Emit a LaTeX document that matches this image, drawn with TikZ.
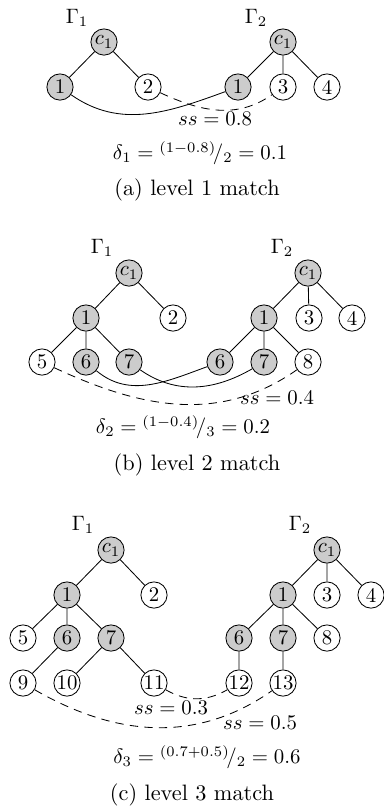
\documentclass[tikz,border=0pt]{standalone}
\begin{document}
\begin{tikzpicture}[x=0.48pt,y=-0.48pt,
  vtx/.style={circle,draw,minimum size=12.6pt,inner sep=0pt,font=\fontsize{10}{12}\selectfont},
  hit/.style={vtx,fill=black!20},
  lbl/.style={inner sep=0pt,font=\fontsize{10}{12}\selectfont},
  captext/.style={inner sep=0pt,font=\fontsize{10.7}{13}\selectfont},
  match/.style={thin},
  sim/.style={thin,dashed,dash pattern=on 4pt off 3pt}]
\useasboundingbox (0,0) rectangle (384,808);
% ---------- (a)
\node[lbl] (ag1) at (77,18) {$\Gamma_1$};
\node[lbl] (ag2) at (256,18) {$\Gamma_2$};
\node[hit] (ac) at (104,42) {$c_1$};
\node[hit] (a1) at (60,87) {1};
\node[vtx] (a2) at (148,87) {2};
\node[hit] (bc) at (283,42) {$c_1$};
\node[hit] (b1) at (238,87) {1};
\node[vtx] (b3) at (283,87) {3};
\node[vtx] (b4) at (327,87) {4};
\draw (ac)--(a1) (ac)--(a2) (bc)--(b1) (bc)--(b3) (bc)--(b4);
\draw[match] (a1) to[out=-35,in=200] (b1);
\draw[sim] (a2) to[out=-25,in=215] (b3);
\node[lbl] (ass) at (215,119) {$ss=0.8$};
\node[lbl] (ad) at (200,153) {$\delta_1={}^{(1-0.8)}\!/_{2}=0.1$};
\node[captext] (acap) at (197,190) {(a) level 1 match};
% ---------- (b)
\node[lbl] (cg1) at (102,248) {$\Gamma_1$};
\node[lbl] (cg2) at (282,248) {$\Gamma_2$};
\node[hit] (cc) at (129,273) {$c_1$};
\node[hit] (c1) at (86,318) {1};
\node[vtx] (c2) at (173,318) {2};
\node[vtx] (c5) at (42,362) {5};
\node[hit] (c6) at (86,362) {6};
\node[hit] (c7) at (129,362) {7};
\node[hit] (dc) at (308,273) {$c_1$};
\node[hit] (d1) at (264,318) {1};
\node[vtx] (d3) at (309,318) {3};
\node[vtx] (d4) at (352,318) {4};
\node[hit] (d6) at (220,362) {6};
\node[hit] (d7) at (264,362) {7};
\node[vtx] (d8) at (308,362) {8};
\draw (cc)--(c1) (cc)--(c2) (c1)--(c5) (c1)--(c6) (c1)--(c7);
\draw (dc)--(d1) (dc)--(d3) (dc)--(d4) (d1)--(d6) (d1)--(d7) (d1)--(d8);
\draw[match] (c6) to[out=-40,in=200] (d6);
\draw[match] (c7) to[out=-35,in=210] (d7);
\draw[sim] (c5) to[out=-25,in=215] (d8);
\node[lbl] (css) at (277,398) {$ss=0.4$};
\node[lbl] (cd) at (183,427) {$\delta_2={}^{(1-0.4)}\!/_{3}=0.2$};
\node[captext] (ccap) at (197,465) {(b) level 2 match};
% ---------- (c)
\node[lbl] (eg1) at (83,525) {$\Gamma_1$};
\node[lbl] (eg2) at (300,525) {$\Gamma_2$};
\node[hit] (ec) at (111,550) {$c_1$};
\node[hit] (e1) at (67,595) {1};
\node[vtx] (e2) at (154,595) {2};
\node[vtx] (e5) at (23,638) {5};
\node[hit] (e6) at (67,638) {6};
\node[hit] (e7) at (111,638) {7};
\node[vtx] (e9) at (23,683) {9};
\node[vtx] (e10) at (67,683) {10};
\node[vtx] (e11) at (154,683) {11};
\node[hit] (fc) at (327,550) {$c_1$};
\node[hit] (f1) at (283,595) {1};
\node[vtx] (f3) at (327,595) {3};
\node[vtx] (f4) at (371,595) {4};
\node[hit] (f6) at (239,638) {6};
\node[hit] (f7) at (283,638) {7};
\node[vtx] (f8) at (327,638) {8};
\node[vtx] (f12) at (239,683) {12};
\node[vtx] (f13) at (283,683) {13};
\draw (ec)--(e1) (ec)--(e2) (e1)--(e5) (e1)--(e6) (e1)--(e7) (e6)--(e9) (e7)--(e10) (e7)--(e11);
\draw (fc)--(f1) (fc)--(f3) (fc)--(f4) (f1)--(f6) (f1)--(f7) (f1)--(f8) (f6)--(f12) (f7)--(f13);
\draw[sim] (e11) to[out=-30,in=210] (f12);
\draw[sim] (e9) to[out=-30,in=215] (f13);
\node[lbl] (ess1) at (171,708) {$ss=0.3$};
\node[lbl] (ess2) at (260,723) {$ss=0.5$};
\node[lbl] (ed) at (207,757) {$\delta_3={}^{(0.7+0.5)}\!/_{2}=0.6$};
\node[captext] (ecap) at (192,795) {(c) level 3 match};
\end{tikzpicture}
\end{document}
